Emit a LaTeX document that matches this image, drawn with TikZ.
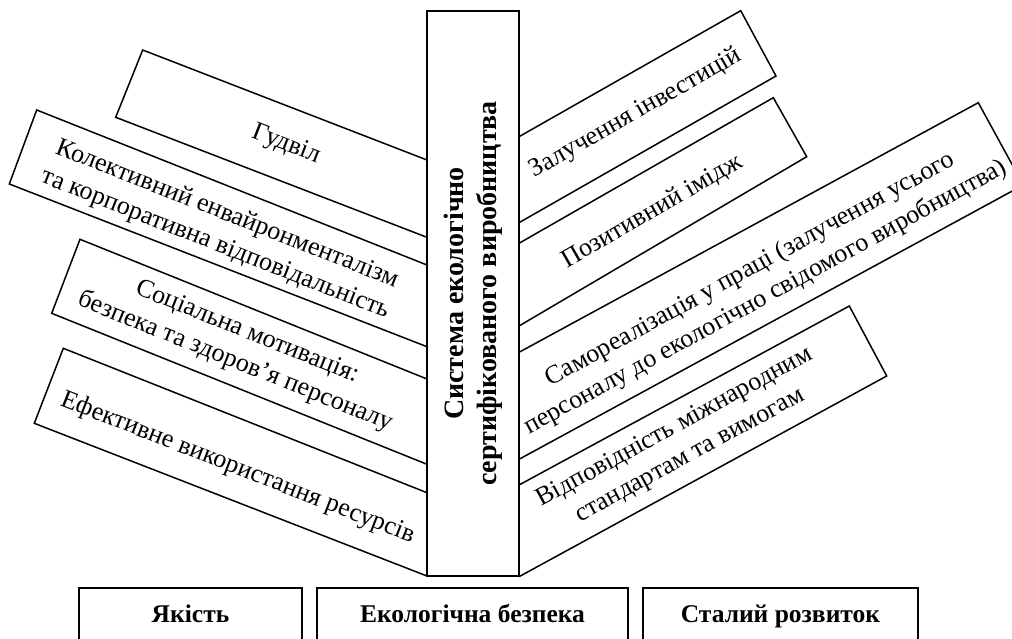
\documentclass[tikz,border=0pt]{standalone}
\usepackage{fontspec}
\setmainfont{Liberation Serif}
\begin{document}
\begin{tikzpicture}[x=1pt,y=-1pt,
        every node/.style={inner sep=0pt},
        factor/.style={font=\fontsize{26}{32}\selectfont, align=center},
        tilt/.style={line width=1.5pt, line join=miter},
        system/.style={draw, line width=1.8pt, fill=white, align=center,
            font=\bfseries\fontsize{28}{33}\selectfont},
        result/.style={draw, line width=1.8pt, anchor=north, minimum height=58pt,
            text height=19pt, text depth=7pt,
            font=\bfseries\fontsize{25.5}{30}\selectfont}]
        \useasboundingbox (0,0) rectangle (1012,639);
        \clip (0,0) rectangle (1012,639);

        % ліва сторона
        \draw[tilt] (427,160) -- (142.7,50) -- (115.7,117.3) -- (427,237.3);
        \node[factor, rotate=-21.1] (gudvil) at (286,145) {Гудвіл};

        \draw[tilt] (427,265) -- (36.7,110) -- (9.3,184) -- (427,346.7);
        \node[factor, rotate=-21.5] (kolektyv) at (221,229.5) {Колективний енвайронменталізм\\та корпоративна відповідальність};

        \draw[tilt] (427,379) -- (80,239.3) -- (51.7,313.3) -- (427,464.3);
        \node[factor, rotate=-21.9] (motyv) at (241,347.5) {Соціальна мотивація:\\безпека та здоров’я персоналу};

        \draw[tilt] (427,492.7) -- (63.3,348.3) -- (34.3,423.3) -- (427,576);
        \node[factor, rotate=-21.4] (resursy) at (237.5,468.3) {Ефективне використання ресурсів};

        % права сторона
        \draw[tilt] (519,136.7) -- (740.7,10.7) -- (776,76) -- (519,222.7);
        \node[factor, rotate=29.6] (invest) at (635.8,113.3) {Залучення інвестицій};

        \draw[tilt] (519,243.3) -- (773.3,97.7) -- (806.7,156.7) -- (519,326);
        \node[factor, rotate=30] (imidzh) at (652.5,211.7) {Позитивний імідж};

        \draw[tilt] (519,352.3) -- (978.3,102.7) -- (1023.3,185) -- (519,459.3);
        \node[factor, rotate=28.7] (pratsia) at (758.1,283.7) {Самореалізація у праці (залучення усього\\персоналу до екологічно свідомого виробництва)};

        \draw[tilt] (519,485) -- (849.3,306) -- (886.7,376) -- (519,576.7);
        \node[factor, rotate=28.6] (standart) at (682.5,441.7) {Відповідність міжнародним\\стандартам та вимогам};

        % центр
        \node[system, rotate=90, minimum width=565.3pt, minimum height=92pt] (systema) at (473,293.4) {Система екологічно\\сертифікованого виробництва};

        % результати
        \node[result, minimum width=223.6pt] (yakist) at (190.5,587) {Якість};
        \node[result, minimum width=311.6pt] (bezpeka) at (472.5,587) {Екологічна безпека};
        \node[result, minimum width=274.4pt] (rozvytok) at (780.5,587) {Сталий розвиток};

    \end{tikzpicture}
\end{document}
